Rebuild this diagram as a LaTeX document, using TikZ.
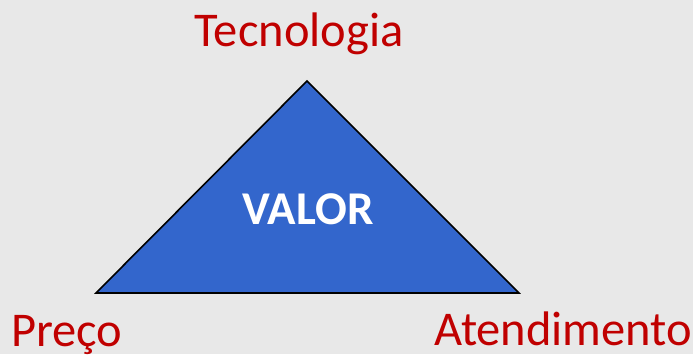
\documentclass[tikz,border=0pt]{standalone}
\usepackage{fontspec}
\setmainfont{Carlito}
\begin{document}
\begin{tikzpicture}[x=1pt,y=-1pt,
  corner/.style={text=labelred,font=\fontsize{48.5}{48.5}\selectfont,inner sep=0pt,anchor=base},
  centre/.style={text=white,font=\fontsize{47}{47}\selectfont\bfseries,inner sep=0pt,anchor=base}]
\definecolor{labelred}{HTML}{C00000}
\definecolor{valueblue}{HTML}{3366CC}
\definecolor{bg}{HTML}{E8E8E8}
\fill[bg] (0,0) rectangle (693,354);
\useasboundingbox (0,0) rectangle (693,354);
% triangle corners
\coordinate (top) at (307,81);
\coordinate (left) at (96,293);
\coordinate (right) at (519,293);
\draw[fill=valueblue,line width=1.6pt,line join=miter] (top) -- (right) -- (left) -- cycle;
\node[centre] (valor) at (308,224) {VALOR};
\node[corner] (tec) at (299,46) {Tecnologia};
\node[corner,anchor=base west] (preco) at (11,346) {Preço};
\node[corner,anchor=base west] (aten) at (434,345) {Atendimento};
\end{tikzpicture}
\end{document}
